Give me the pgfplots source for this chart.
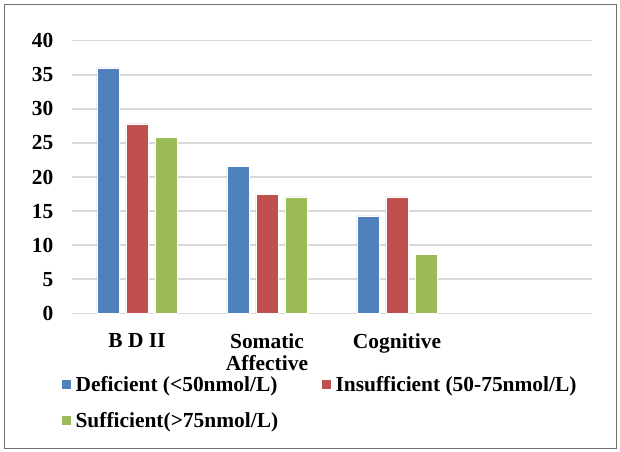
\documentclass[border=0pt]{standalone}
\usepackage{fontspec}
\setmainfont{Liberation Serif}
\usepackage{pgfplots}
\pgfplotsset{compat=1.18}
\definecolor{cblue}{HTML}{4F81BD}
\definecolor{cred}{HTML}{C0504D}
\definecolor{cgreen}{HTML}{9BBB59}
\definecolor{cgrid}{HTML}{D9D9D9}
\definecolor{cframe}{HTML}{707070}
\pgfplotsset{sqlegend/.style={legend image code/.code={\fill[##1] (0bp,-5bp) rectangle (10bp,5bp);}}}
\begin{document}
\begin{tikzpicture}
\useasboundingbox (0,0) rectangle (620bp,452bp);
\draw[cframe, line width=1bp] (4.5bp,3.5bp) rectangle (616.5bp,447.5bp);
\begin{axis}[
  scale only axis,
  width=520bp, height=272.6bp,
  at={(72bp,138.7bp)}, anchor=south west,
  ybar=6.5bp, bar width=22.5bp,
  xmin=-0.5, xmax=3.5,
  ymin=0, ymax=40,
  enlarge y limits=false,
  xtick={0,1,2},
  xticklabels={B D II,{Somatic\\Affective},Cognitive},
  ytick={0,5,...,40},
  ymajorgrids,
  grid style={cgrid, line width=1.5bp},
  axis line style={draw=none},
  major tick length=0pt,
  /pgf/number format/assume math mode=true,
  yticklabel style={font=\bfseries\fontsize{21.5}{23}\selectfont, inner sep=0pt, anchor=east, xshift=-18.5bp},
  xticklabel style={font=\bfseries\fontsize{21.5}{23}\selectfont, align=center, inner sep=0pt, anchor=north, yshift=-19.7bp},
  legend columns=2,
  legend cell align=left,
  legend style={draw=none, fill=none, inner sep=0pt, at={(-0.0212,-0.222)}, anchor=north west,
    font=\bfseries\fontsize{21.5}{23}\selectfont,
    row sep=15.5bp,
    /tikz/every odd column/.append style={column sep=2bp},
    /tikz/every even column/.append style={column sep=41bp}},
]
\addplot[fill=cblue, draw=white, line width=0.4bp, sqlegend] coordinates {(0,36.0) (1,21.6) (2,14.3)};
\addplot[fill=cred, draw=white, line width=0.4bp, sqlegend] coordinates {(0,27.8) (1,17.5) (2,17.1)};
\addplot[fill=cgreen, draw=white, line width=0.4bp, sqlegend] coordinates {(0,25.8) (1,17.1) (2,8.6)};
\legend{Deficient (<50nmol/L), Insufficient (50-75nmol/L), Sufficient(>75nmol/L)}
\end{axis}
\end{tikzpicture}
\end{document}
